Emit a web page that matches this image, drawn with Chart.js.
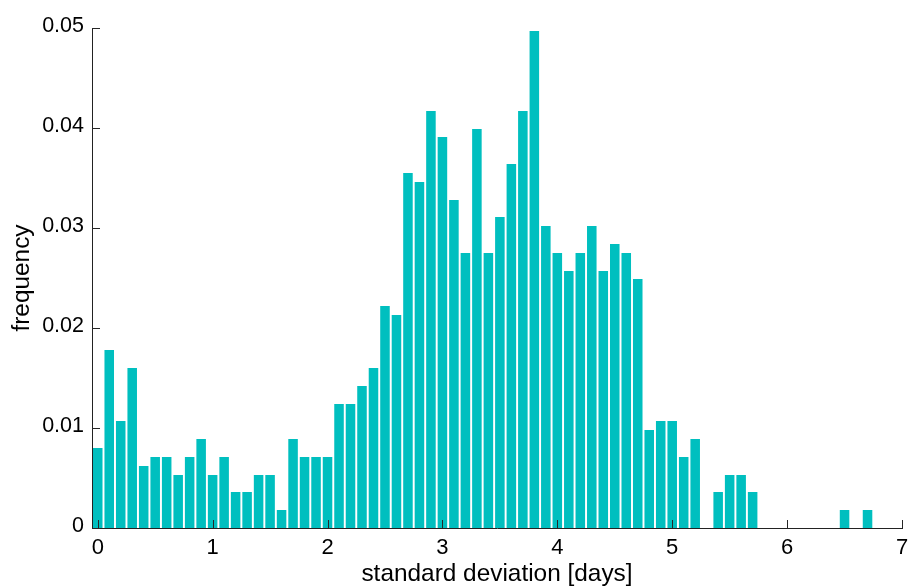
<!DOCTYPE html>
<html>
<head>
  <title>Standard deviation histogram</title>
  <style>
    body {
      margin: 0;
      padding: 0;
      background-color: #ffffff;
    }

    .chart-container {
      position: relative;
      width: 910px;
      height: 586px;
    }
  </style>
  <script src="https://cdn.jsdelivr.net/npm/chart.js"></script>
</head>
<body>
<div class="chart-container">
  <canvas id="stdChart"></canvas>
</div>

<script>
  // bin centres in days
  const binCenters = [
    0.0, 0.1, 0.2, 0.3, 0.4, 0.5, 0.6, 0.7, 0.8, 0.9,
    1.0, 1.1, 1.2, 1.3, 1.4, 1.5, 1.6, 1.7, 1.8, 1.9,
    2.0, 2.1, 2.2, 2.3, 2.4, 2.5, 2.6, 2.7, 2.8, 2.9,
    3.0, 3.1, 3.2, 3.3, 3.4, 3.5, 3.6, 3.7, 3.8, 3.9,
    4.0, 4.1, 4.2, 4.3, 4.4, 4.5, 4.6, 4.7, 4.8, 4.9,
    5.0, 5.1, 5.2, 5.3, 5.4, 5.5, 5.6, 5.7, 5.8, 5.9,
    6.0, 6.1, 6.2, 6.3, 6.4, 6.5, 6.6, 6.7
  ];

  // frequency of each bin
  const frequencies = [
    0.0080, 0.0178, 0.0107, 0.0160, 0.0062, 0.0071, 0.0071, 0.0053, 0.0071, 0.0089,
    0.0053, 0.0071, 0.0036, 0.0036, 0.0053, 0.0053, 0.0018, 0.0089, 0.0071, 0.0071,
    0.0071, 0.0124, 0.0124, 0.0142, 0.0160, 0.0222, 0.0213, 0.0355, 0.0346, 0.0417,
    0.0391, 0.0328, 0.0275, 0.0399, 0.0275, 0.0311, 0.0364, 0.0417, 0.0497, 0.0302,
    0.0275, 0.0257, 0.0275, 0.0302, 0.0257, 0.0284, 0.0275, 0.0249, 0.0098, 0.0107,
    0.0107, 0.0071, 0.0089, 0, 0.0036, 0.0053, 0.0053, 0.0036, 0, 0,
    0, 0, 0, 0, 0, 0.0018, 0, 0.0018
  ];

  const xTickValues = [0, 1, 2, 3, 4, 5, 6, 7];
  const yTickValues = [0, 0.01, 0.02, 0.03, 0.04, 0.05];

  const histData = binCenters.map((c, i) => ({ x: c, y: frequencies[i] }));

  // small inward tick marks, like the original plot
  const inwardTicks = {
    id: 'inwardTicks',
    afterDatasetsDraw(chart) {
      const { ctx, chartArea, scales } = chart;
      const len = 8;
      ctx.save();
      ctx.strokeStyle = '#262626';
      ctx.lineWidth = 1;
      ctx.beginPath();
      scales.x.ticks.forEach(t => {
        const px = Math.round(scales.x.getPixelForValue(t.value)) + 0.5;
        ctx.moveTo(px, chartArea.bottom);
        ctx.lineTo(px, chartArea.bottom - len);
      });
      scales.y.ticks.forEach(t => {
        const py = Math.round(scales.y.getPixelForValue(t.value)) + 0.5;
        ctx.moveTo(chartArea.left, py);
        ctx.lineTo(chartArea.left + len, py);
      });
      ctx.stroke();
      ctx.restore();
    }
  };

  const ctx = document.getElementById('stdChart').getContext('2d');

  new Chart(ctx, {
    type: 'bar',
    data: {
      datasets: [
        {
          label: 'frequency',
          data: histData,
          backgroundColor: '#00BFBF',
          borderWidth: 0,
          barPercentage: 0.83,
          categoryPercentage: 1.0
        }
      ]
    },
    options: {
      responsive: true,
      maintainAspectRatio: false,
      animation: false,
      layout: {
        padding: { top: 28, right: 8, bottom: 0, left: 0 }
      },
      plugins: {
        legend: { display: false },
        tooltip: { enabled: false }
      },
      scales: {
        x: {
          type: 'linear',
          min: -0.05,
          max: 7,
          offset: false,
          afterBuildTicks: scale => {
            scale.ticks = xTickValues.map(v => ({ value: v }));
          },
          afterFit: scale => {
            scale.height = 58;
            scale.paddingRight = 0;
            scale.paddingLeft = 0;
          },
          grid: { display: false, drawTicks: false },
          border: { display: true, color: '#222', width: 1 },
          ticks: {
            color: '#000',
            padding: 7,
            maxRotation: 0,
            font: { family: 'Liberation Sans, Arial, sans-serif', size: 22 },
            callback: v => v.toString()
          },
          title: {
            display: true,
            text: 'standard deviation [days]',
            color: '#000',
            padding: { top: 0, bottom: 0 },
            font: { family: 'Liberation Sans, Arial, sans-serif', size: 24.4, lineHeight: 1 }
          }
        },
        y: {
          min: 0,
          max: 0.05,
          afterBuildTicks: scale => {
            scale.ticks = yTickValues.map(v => ({ value: v }));
          },
          afterFit: scale => {
            scale.width = 92;
          },
          grid: { display: false, drawTicks: false },
          border: { display: true, color: '#222', width: 1 },
          ticks: {
            color: '#000',
            padding: 8,
            labelOffset: -2,
            font: { family: 'Liberation Sans, Arial, sans-serif', size: 21.5 },
            callback: v => (v === 0 ? '0' : v.toFixed(2))
          },
          title: {
            display: true,
            text: 'frequency',
            color: '#000',
            padding: { top: 10, bottom: 0 },
            font: { family: 'Liberation Sans, Arial, sans-serif', size: 24.4, lineHeight: 1 }
          }
        }
      }
    },
    plugins: [inwardTicks]
  });
</script>

</body>
</html>
